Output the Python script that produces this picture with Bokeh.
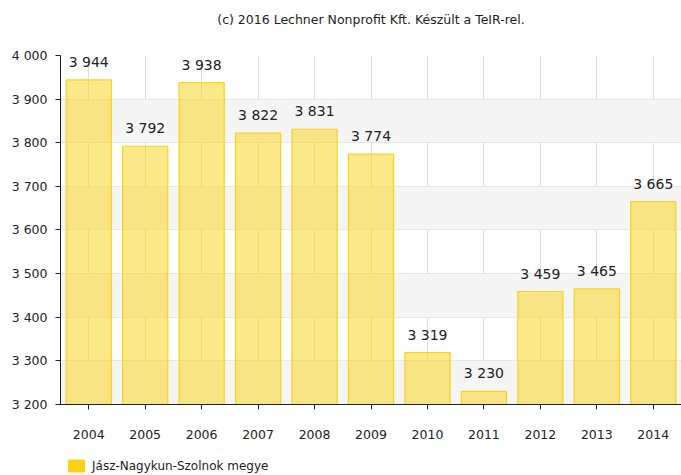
from bokeh.plotting import figure
from bokeh.layouts import column
from bokeh.models import Range1d, FactorRange, ColumnDataSource, CustomJSTickFormatter, Legend, LegendItem, SingleIntervalTicker
from bokeh.core.properties import value
from bokeh.embed import file_html
from bokeh.resources import INLINE

years = ["2004", "2005", "2006", "2007", "2008", "2009", "2010", "2011", "2012", "2013", "2014"]
values = [3944, 3792, 3938, 3822, 3831, 3774, 3319, 3230, 3459, 3465, 3665]
series_name = "Jász-Nagykun-Szolnok megye"
title_text = "(c) 2016 Lechner Nonprofit Kft. Készült a TeIR-rel."

labels = ["{:,}".format(v).replace(",", " ") for v in values]
src = ColumnDataSource(dict(x=years, top=values, lab=labels))

W = 681
TITLE_H = 38
LEG_H = 28
MAIN_H = 475 - TITLE_H - LEG_H

# title strip
tp = figure(width=W, height=TITLE_H, output_backend="svg", toolbar_location=None,
            x_range=Range1d(0, 1), y_range=Range1d(0, 1),
            min_border_left=0, min_border_right=0, min_border_top=0, min_border_bottom=0)
tp.axis.visible = False
tp.grid.visible = False
tp.outline_line_color = None
tp.text(x=[0.5], y=[0.5], text=[title_text], text_align="center", text_baseline="middle",
        text_font=value("DejaVu Sans"), text_font_size="12.5px", text_color="#222222")

p = figure(width=W, height=MAIN_H, output_backend="svg", toolbar_location=None,
           x_range=FactorRange(*years, range_padding=0), y_range=Range1d(3199.99, 4000),
           min_border_left=60, min_border_right=0, min_border_top=55 - TITLE_H,
           min_border_bottom=475 - LEG_H - 404)
p.outline_line_color = None
p.background_fill_color = "white"

r = p.vbar(x="x", top="top", bottom=3200, width=0.8, source=src,
           fill_color="#fcd116", fill_alpha=0.5, line_color="#f7d31a", line_width=1.2)

p.text(x="x", y="top", text="lab", source=src, y_offset=-10,
       text_align="center", text_baseline="bottom",
       text_font=value("DejaVu Sans"), text_font_size="14px", text_color="#222222")

p.yaxis.ticker = SingleIntervalTicker(interval=100, num_minor_ticks=0)
p.yaxis.formatter = CustomJSTickFormatter(code='return Math.round(tick).toString().replace(/\\B(?=(\\d{3})+(?!\\d))/g, " ");')
for ax in (p.xaxis, p.yaxis):
    ax.axis_line_color = "#222222"
    ax.major_tick_line_color = "#222222"
    ax.minor_tick_line_color = None
    ax.major_tick_out = 5
    ax.major_tick_in = 0
    ax.major_label_text_font = "DejaVu Sans"
    ax.major_label_text_font_size = "12.5px"
    ax.major_label_text_color = "#222222"
p.yaxis.major_label_standoff = 8
p.xaxis.major_label_standoff = 20

p.ygrid.grid_line_color = "#e6e6e6"
p.ygrid.band_fill_color = "#f5f5f5"
p.ygrid.band_fill_alpha = 1.0
p.xgrid.grid_line_color = "#dcdcdc"

# legend strip below the chart
lp = figure(width=W, height=LEG_H, output_backend="svg", toolbar_location=None,
            x_range=Range1d(0, 1), y_range=Range1d(0, 1),
            min_border_left=0, min_border_right=0, min_border_top=0, min_border_bottom=0)
lp.axis.visible = False
lp.grid.visible = False
lp.outline_line_color = None
sw = lp.vbar(x=[5], top=[5], bottom=[4], width=1,
             fill_color="#fcd116", fill_alpha=1.0, line_color="#fcd116")
legend = Legend(items=[LegendItem(label=series_name, renderers=[sw])],
                location=(6, 2), orientation="horizontal",
                label_text_font="DejaVu Sans", label_text_font_size="12px", label_text_color="#222222",
                glyph_width=20, glyph_height=15, border_line_color=None, background_fill_alpha=0,
                padding=0, margin=0, label_standoff=6)
lp.add_layout(legend, "center")

layout = column(tp, p, lp, spacing=0)
open("out.html", "w").write(file_html(layout, INLINE))
